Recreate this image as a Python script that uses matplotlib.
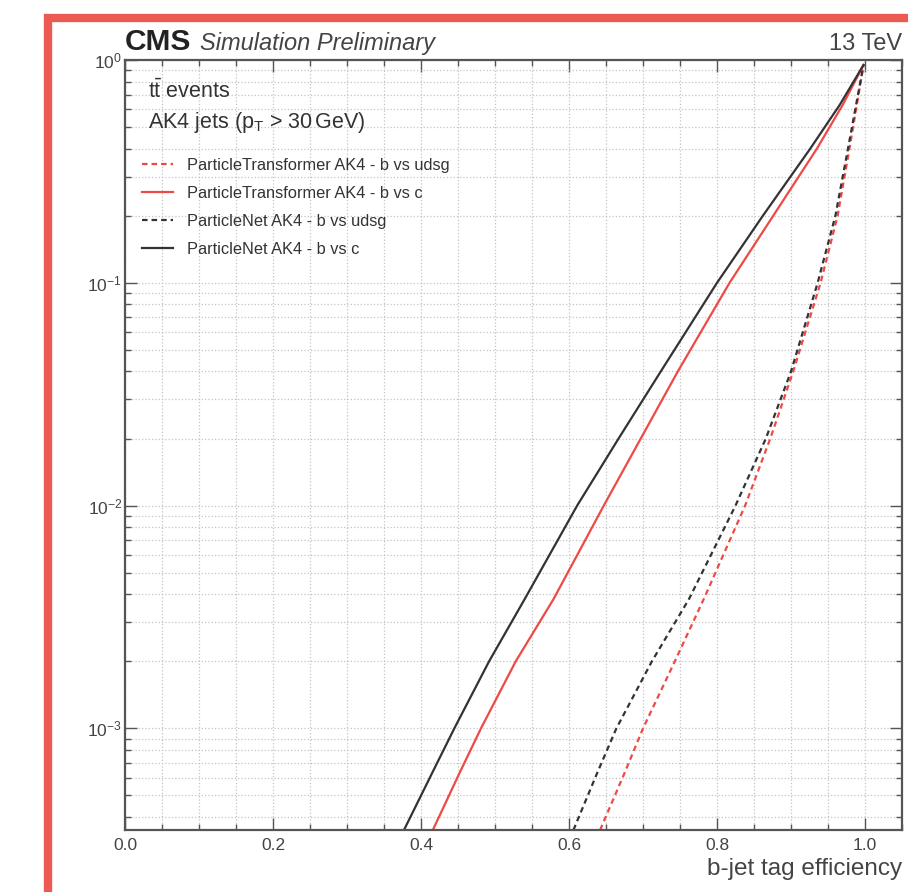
import matplotlib
matplotlib.use("Agg")
import matplotlib.pyplot as plt
from matplotlib.patches import Rectangle
from matplotlib.ticker import MultipleLocator, LogLocator, NullFormatter, FormatStrFormatter
import numpy as np

plt.rcParams['font.family'] = ['Liberation Sans', 'DejaVu Sans']
plt.rcParams['mathtext.fontset'] = 'custom'
plt.rcParams['mathtext.rm'] = 'Liberation Sans'
plt.rcParams['mathtext.it'] = 'Liberation Sans:italic'
plt.rcParams['mathtext.bf'] = 'Liberation Sans:bold'

# ROC curves: b-jet efficiency vs mis-id rate
labels = ['ParticleTransformer AK4 - b vs udsg', 'ParticleTransformer AK4 - b vs c',
          'ParticleNet AK4 - b vs udsg', 'ParticleNet AK4 - b vs c']

# mis-id rate points (same for every curve)
mistag = [3.5e-4, 6.3e-4, 1.0e-3, 2.0e-3, 3.8e-3, 1.0e-2, 2.0e-2, 4.0e-2, 0.10, 0.20, 0.40, 0.63, 0.95]

part_udsg_eff = [0.642, 0.675, 0.700, 0.743, 0.782, 0.838, 0.872, 0.903, 0.940, 0.963, 0.979, 0.989, 0.998]
part_c_eff = [0.416, 0.452, 0.481, 0.528, 0.579, 0.647, 0.697, 0.747, 0.817, 0.876, 0.935, 0.970, 0.998]
pn_udsg_eff = [0.606, 0.638, 0.664, 0.712, 0.762, 0.825, 0.866, 0.900, 0.936, 0.960, 0.977, 0.988, 0.998]
pn_c_eff = [0.377, 0.415, 0.445, 0.492, 0.540, 0.611, 0.667, 0.724, 0.800, 0.862, 0.926, 0.966, 0.998]

red = '#ee4a45'
black = '#333333'
dash = (0, (2.5, 1.8))

fig = plt.figure(figsize=(9.08, 8.92), dpi=100)
ax = fig.add_axes([125/908, 62/892, 777/908, 770/892])

ax.plot(part_udsg_eff, mistag, color=red, lw=1.6, ls=dash, label=labels[0])
ax.plot(part_c_eff, mistag, color=red, lw=1.6, ls='-', label=labels[1])
ax.plot(pn_udsg_eff, mistag, color=black, lw=1.6, ls=dash, label=labels[2])
ax.plot(pn_c_eff, mistag, color=black, lw=1.6, ls='-', label=labels[3])

ax.set_yscale('log')
ax.set_xlim(0, 1.05)
ax.set_ylim(3.5e-4, 1.0)
ax.xaxis.set_major_locator(MultipleLocator(0.2))
ax.xaxis.set_minor_locator(MultipleLocator(0.05))
ax.yaxis.set_major_locator(LogLocator(base=10, numticks=10))
ax.yaxis.set_minor_locator(LogLocator(base=10, subs=np.arange(2, 10), numticks=20))
ax.yaxis.set_minor_formatter(NullFormatter())
ax.xaxis.set_major_formatter(FormatStrFormatter('%.1f'))

ax.grid(True, which='both', ls=':', color='#c4c4c4', lw=0.9)
ax.set_axisbelow(True)

ax.tick_params(which='both', direction='in', top=True, right=True, colors='#555555', labelcolor='#444444')
ax.tick_params(which='major', length=8.5, width=1.0, labelsize=12.5)
ax.tick_params(which='minor', length=4.3, width=1.0)
ax.tick_params(axis='x', which='major', pad=6)
ax.tick_params(axis='y', which='major', pad=2)
for s in ax.spines.values():
    s.set_color('#555555')
    s.set_linewidth(1.6)

ax.set_xlabel('b-jet tag efficiency', loc='right', fontsize=17.5, color='#444444', labelpad=3)

ax.text(0.0, 1.013, 'CMS', transform=ax.transAxes, fontsize=21.5, fontweight='bold', va='baseline', ha='left', color='#222222')
ax.text(0.097, 1.013, 'Simulation Preliminary', transform=ax.transAxes, fontsize=17, style='italic', va='baseline', ha='left', color='#444444')
ax.text(1.0, 1.013, '13 TeV', transform=ax.transAxes, fontsize=17, va='baseline', ha='right', color='#444444')

ax.text(0.030, 0.951, r'$\mathrm{t\bar{t}}$ events', transform=ax.transAxes, fontsize=15.5, va='baseline', color='#333333')
ax.text(0.030, 0.912, r'AK4 jets ($\mathrm{p_{T}}$ > 30$\,$GeV)', transform=ax.transAxes, fontsize=15.5, va='baseline', color='#333333')

leg = ax.legend(loc='upper left', bbox_to_anchor=(0.022, 0.873), frameon=False, fontsize=11.8,
                handlelength=1.9, handletextpad=0.85, labelspacing=0.79, borderpad=0, borderaxespad=0)
for t in leg.get_texts():
    t.set_color('#333333')

# red frame around the screenshot
fig.patches.append(Rectangle((48/908, -0.2), 1.2, 1.2 - 18/892, transform=fig.transFigure,
                             fill=False, edgecolor='#ec5a52', linewidth=6, clip_on=False))

fig.savefig('out.png', dpi=100)
